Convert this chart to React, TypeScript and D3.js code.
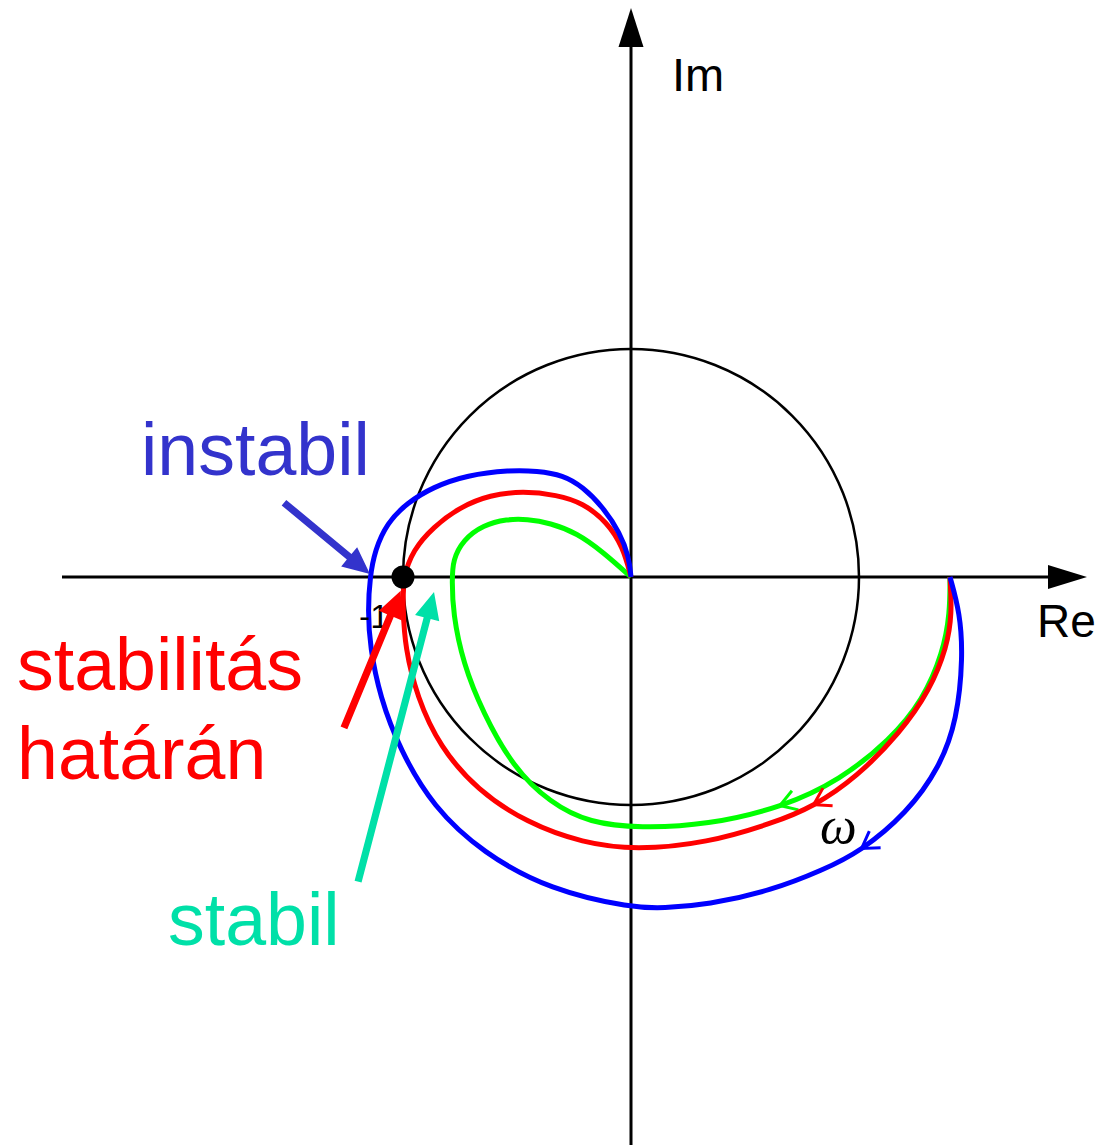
import React from "react";
import * as d3 from "d3";

// Nyquist curves of the open loop for three gains, points as [Re, Im]
const stableCurve: [number, number][] = [
  [1.399, 0], [1.399, -0.158], [1.368, -0.333], [1.281, -0.539], [1.136, -0.715],
  [0.917, -0.89], [0.667, -1.009], [0.333, -1.088], [0.039, -1.101], [-0.18, -1.079],
  [-0.355, -0.991], [-0.518, -0.833], [-0.649, -0.596], [-0.737, -0.377], [-0.781, -0.158],
  [-0.785, -0.013], [-0.781, 0.075], [-0.737, 0.162], [-0.649, 0.228], [-0.544, 0.254],
  [-0.456, 0.254], [-0.355, 0.237], [-0.237, 0.193], [-0.123, 0.11], [0, 0],
];
const marginalCurve: [number, number][] = [
  [1.399, 0], [1.408, -0.158], [1.386, -0.307], [1.311, -0.496], [1.18, -0.684],
  [0.991, -0.877], [0.798, -1.009], [0.623, -1.079], [0.333, -1.167], [0.022, -1.197],
  [-0.211, -1.167], [-0.456, -1.079], [-0.675, -0.934], [-0.838, -0.746], [-0.939, -0.526],
  [-0.991, -0.307], [-1.0, -0.145], [-1.0, 0], [-0.956, 0.118], [-0.868, 0.219],
  [-0.75, 0.307], [-0.618, 0.36], [-0.474, 0.377], [-0.325, 0.36], [-0.211, 0.325],
  [-0.105, 0.241], [-0.035, 0.132], [0, 0],
];
const unstableCurve: [number, number][] = [
  [1.399, 0], [1.443, -0.158], [1.456, -0.351], [1.43, -0.627], [1.355, -0.833],
  [1.211, -1.035], [1.004, -1.206], [0.842, -1.285], [0.623, -1.373], [0.333, -1.439],
  [0.14, -1.452], [0.009, -1.452], [-0.355, -1.373], [-0.649, -1.211], [-0.868, -1.009],
  [-1.013, -0.759], [-1.101, -0.526], [-1.145, -0.307], [-1.154, -0.145], [-1.145, 0],
  [-1.123, 0.118], [-1.07, 0.237], [-0.982, 0.325], [-0.868, 0.395], [-0.719, 0.447],
  [-0.531, 0.469], [-0.412, 0.465], [-0.298, 0.447], [-0.211, 0.395], [-0.123, 0.307],
  [-0.048, 0.193], [-0.009, 0.088], [0, 0],
];

const curveColors = ["#00ff00", "#ff0000", "#0000ff"];
// index of the point carrying the direction-of-ω arrowhead
const arrowIndex = [6, 6, 6];

// critical point
const criticalPoint: [number, number] = [-1, 0];

// annotation arrows: [from, to] in Re/Im units
const labelArrows: { from: [number, number]; to: [number, number]; color: string }[] = [
  { from: [-1.522, 0.326], to: [-1.145, 0.013], color: "#3333cc" },
  { from: [-1.259, -0.662], to: [-1.01, -0.06], color: "#ff0000" },
  { from: [-1.197, -1.336], to: [-0.864, -0.066], color: "#00e0a8" },
];

const labels = [
  { text: "instabil", x: 141, y: 475, color: "#3333cc" },
  { text: "stabilitás", x: 17, y: 690, color: "#ff0000" },
  { text: "határán", x: 17, y: 779, color: "#ff0000" },
  { text: "stabil", x: 168, y: 945, color: "#00e0a8" },
];

const W = 1102;
const H = 1145;

export default function App() {
  const x = d3.scaleLinear().domain([-1, 1]).range([403, 859]);
  const y = d3.scaleLinear().domain([-1, 1]).range([805, 349]);
  const r = x(1) - x(0);

  const line = d3
    .line<[number, number]>()
    .x((d) => x(d[0]))
    .y((d) => y(d[1]))
    .curve(d3.curveBasis);

  const curves = [stableCurve, marginalCurve, unstableCurve];

  // open arrowhead sitting on the B-spline at knot i, pointing along increasing ω
  const chevron = (pts: [number, number][], i: number) => {
    const P = (k: number) => [x(pts[k][0]), y(pts[k][1])];
    const a = P(i - 1), b = P(i), c = P(i + 1);
    const tip = [(a[0] + 4 * b[0] + c[0]) / 6, (a[1] + 4 * b[1] + c[1]) / 6];
    const back = Math.atan2(a[1] - c[1], a[0] - c[0]);
    const len = 19;
    const spread = (32 * Math.PI) / 180;
    const a1 = [tip[0] + len * Math.cos(back - spread), tip[1] + len * Math.sin(back - spread)];
    const a2 = [tip[0] + len * Math.cos(back + spread), tip[1] + len * Math.sin(back + spread)];
    return `M${a1[0]},${a1[1]}L${tip[0]},${tip[1]}L${a2[0]},${a2[1]}`;
  };

  const fatArrow = (from: [number, number], to: [number, number]) => {
    const x0 = x(from[0]), y0 = y(from[1]);
    const x1 = x(to[0]), y1 = y(to[1]);
    const ang = Math.atan2(y1 - y0, x1 - x0);
    const len = Math.hypot(x1 - x0, y1 - y0);
    const sw = 3.6, hl = 27, hw = 12.5;
    const pts = [
      [0, -sw], [len - hl, -sw], [len - hl, -hw], [len, 0],
      [len - hl, hw], [len - hl, sw], [0, sw],
    ].map(([u, v]) => [
      x0 + u * Math.cos(ang) - v * Math.sin(ang),
      y0 + u * Math.sin(ang) + v * Math.cos(ang),
    ]);
    return "M" + pts.map((p) => p.join(",")).join("L") + "Z";
  };

  const ox = x(0), oy = y(0);

  return (
    <svg
      width={W}
      height={H}
      style={{ position: "absolute", left: 0, top: 0, background: "#fff" }}
      fontFamily="'Liberation Sans', Arial, sans-serif"
    >
      {/* real axis */}
      <line x1={62} y1={oy} x2={1050} y2={oy} stroke="#000" strokeWidth={3} />
      <path d={`M1087,${oy}L1048,${oy - 12}L1048,${oy + 12}Z`} fill="#000" />
      {/* imaginary axis */}
      <line x1={ox} y1={H} x2={ox} y2={46} stroke="#000" strokeWidth={3} />
      <path d={`M${ox},8L${ox - 12.5},47L${ox + 12.5},47Z`} fill="#000" />
      <text x={672} y={91} fontSize={47}>Im</text>
      <text x={1037} y={637} fontSize={46}>Re</text>

      {/* unit circle */}
      <circle cx={ox} cy={oy} r={r} fill="none" stroke="#000" strokeWidth={2.5} />

      {/* Nyquist curves */}
      {curves.map((c, k) => (
        <g key={k}>
          <path d={line(c) || ""} fill="none" stroke={curveColors[k]} strokeWidth={5} />
          <path d={chevron(c, arrowIndex[k])} fill="none" stroke={curveColors[k]} strokeWidth={3} />
        </g>
      ))}

      <text x={820} y={843} fontSize={52} fontStyle="italic" fontFamily="'Liberation Serif', 'DejaVu Serif', serif">
        ω
      </text>

      <text x={359} y={628} fontSize={34}>-1</text>

      {/* critical point */}
      <circle cx={x(criticalPoint[0])} cy={y(criticalPoint[1])} r={11.5} fill="#000" />

      {/* annotation arrows */}
      {labelArrows.map((a, i) => (
        <path key={i} d={fatArrow(a.from, a.to)} fill={a.color} />
      ))}

      {labels.map((l, i) => (
        <text key={i} x={l.x} y={l.y} fontSize={73.5} fill={l.color}>
          {l.text}
        </text>
      ))}
    </svg>
  );
}
